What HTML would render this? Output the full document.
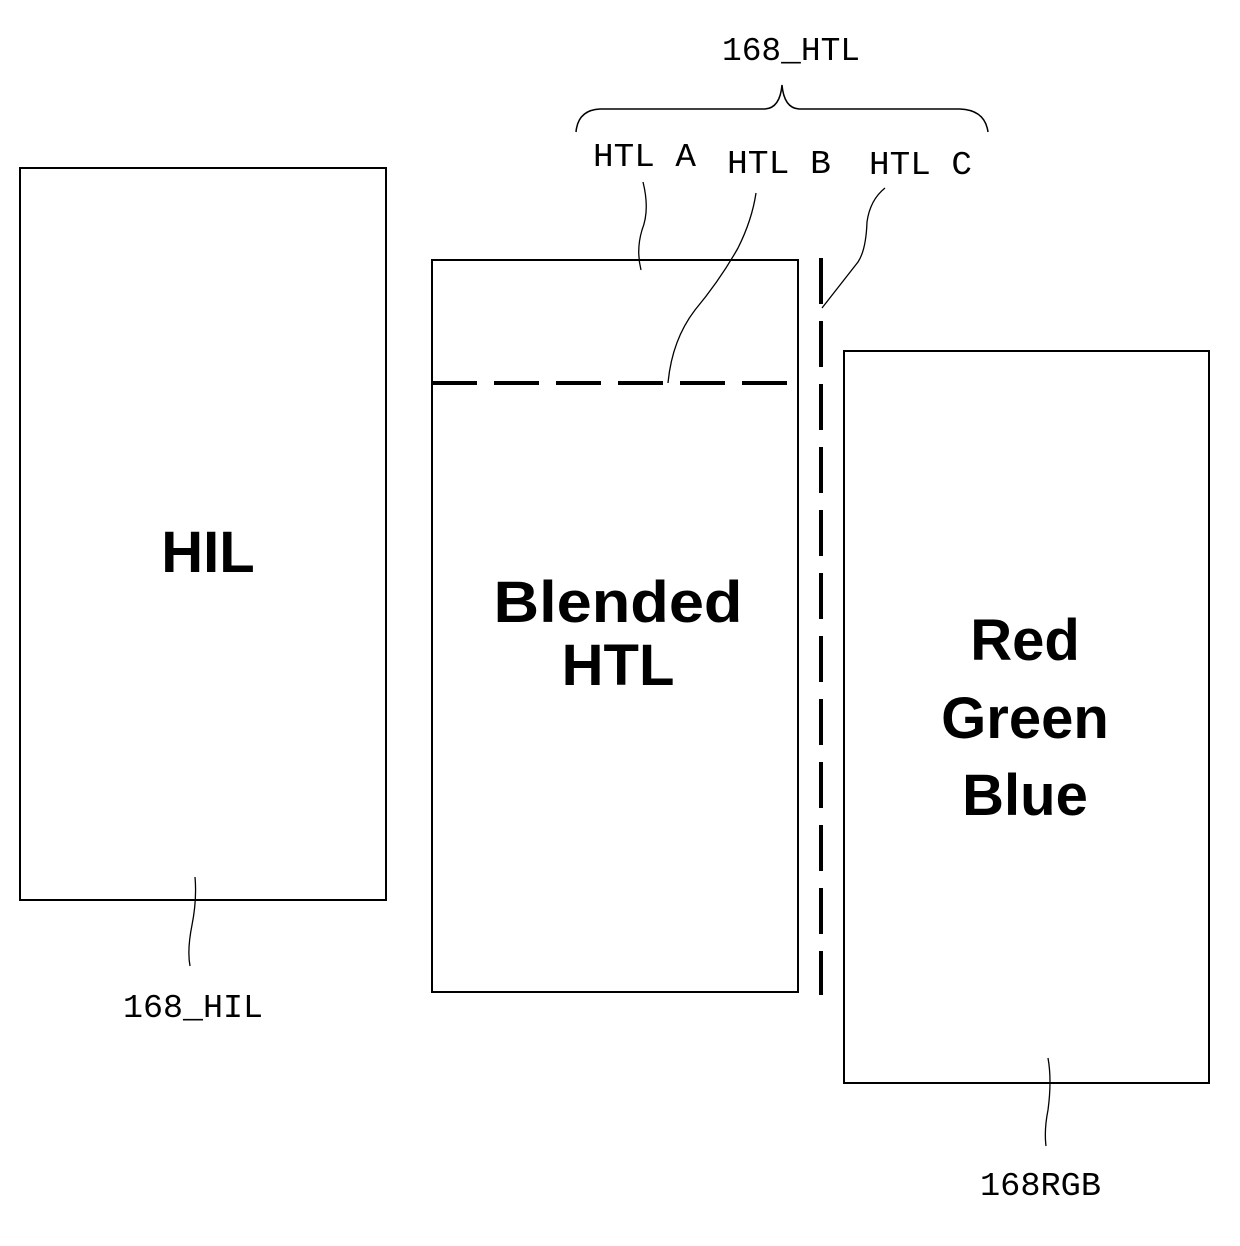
<!DOCTYPE html>
<html><head><meta charset="utf-8"><style>
html,body{margin:0;padding:0;background:#fff}
svg{display:block}
.s{font-family:"Liberation Mono",monospace;font-size:33px;fill:#000}
.b{font-family:"Liberation Sans",sans-serif;font-weight:bold;font-size:58px;fill:#000;text-anchor:middle}
</style></head><body>
<svg width="1240" height="1246" viewBox="0 0 1240 1246" xmlns="http://www.w3.org/2000/svg">
<g fill="none" stroke="#000" stroke-width="2">
<rect x="20" y="168" width="366" height="732"/>
<rect x="432" y="260" width="366" height="732"/>
<rect x="844" y="351" width="365" height="732"/>
<!-- brace -->
<path d="M576 132 Q578 110 600 109 L765 109 Q780 108 782 85 Q784 108 799 109 L960 109 Q985 110 988 132" stroke-width="1.5"/>
<!-- leaders -->
<path d="M643 182 Q650 210 642 230 Q636 250 641 270" stroke-width="1.3"/>
<path d="M756 193 Q752 220 738 248 Q720 280 695 310 Q672 340 668 383" stroke-width="1.3"/>
<path d="M885 188 Q870 200 867 222 Q866 250 858 262 Q840 285 822 308" stroke-width="1.3"/>
<path d="M195 877 Q197 900 192 925 Q187 950 190 966" stroke-width="1.3"/>
<path d="M1048 1058 Q1052 1080 1048 1110 Q1044 1130 1046 1146" stroke-width="1.3"/>
</g>
<line x1="432" y1="383" x2="798" y2="383" stroke="#000" stroke-width="4" stroke-dasharray="45 17"/>
<line x1="821" y1="258" x2="821" y2="995" stroke="#000" stroke-width="4" stroke-dasharray="46 17"/>
<text class="s" x="722" y="60" textLength="138" lengthAdjust="spacingAndGlyphs">168_HTL</text>
<text class="s" x="593" y="166" textLength="103" lengthAdjust="spacingAndGlyphs">HTL A</text>
<text class="s" x="727" y="173" textLength="104" lengthAdjust="spacingAndGlyphs">HTL B</text>
<text class="s" x="869" y="174" textLength="103" lengthAdjust="spacingAndGlyphs">HTL C</text>
<text class="s" x="123" y="1017" textLength="140" lengthAdjust="spacingAndGlyphs">168_HIL</text>
<text class="s" x="980" y="1195" textLength="121" lengthAdjust="spacingAndGlyphs">168RGB</text>
<text class="b" x="208" y="572">HIL</text>
<text class="b" x="618" y="622" textLength="249" lengthAdjust="spacingAndGlyphs">Blended</text>
<text class="b" x="618" y="685">HTL</text>
<text class="b" x="1025" y="660">Red</text>
<text class="b" x="1025" y="738">Green</text>
<text class="b" x="1025" y="815">Blue</text>
</svg>
</body></html>
